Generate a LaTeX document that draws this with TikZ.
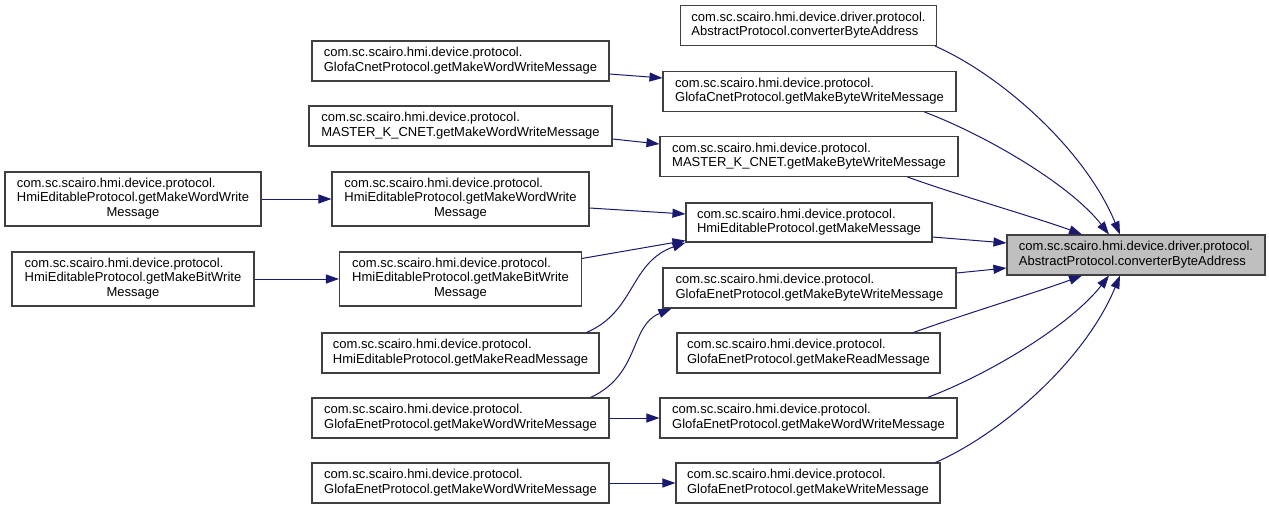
\documentclass[tikz,border=0pt]{standalone}
\usepackage{fontspec}
\setmainfont{Liberation Sans}
\usetikzlibrary{arrows.meta,calc}
\definecolor{edgec}{HTML}{191970}
\definecolor{boxc}{HTML}{404040}
\definecolor{rootfill}{HTML}{BFBFBF}
\newcommand{\twol}[2]{\begin{tabular}{@{}l@{}}#1\\#2\end{tabular}}
\newcommand{\threel}[3]{\begin{tabular}{@{}l@{}}#1\\#2\\\multicolumn{1}{@{}c@{}}{#3}\end{tabular}}
\begin{document}
\begin{tikzpicture}[x=1pt,y=-1pt,
  fn/.style={draw=boxc, line width=1.1pt, fill=white, inner sep=0pt, minimum height=40pt, font=\fontsize{13}{14.5}\selectfont, anchor=center},
  fn3/.style={fn, minimum height=54pt},
  root/.style={fn, fill=rootfill},
  edge/.style={draw=edgec, line width=1pt, -{Triangle[length=13pt,width=9pt]}}]
\fill[white] (0,0) rectangle (1269,509);
\useasboundingbox (0,0) rectangle (1269,509);
% right column
\node[root, minimum width=258pt] (T) at (1136,255) {\twol{com.sc.scairo.hmi.device.driver.protocol.}{AbstractProtocol.converterByteAddress}};
\node[fn, minimum width=256pt] (A) at (808.5,25.5) {\twol{com.sc.scairo.hmi.device.driver.protocol.}{AbstractProtocol.converterByteAddress}};
\node[fn, minimum width=293pt] (B) at (809.5,91.5) {\twol{com.sc.scairo.hmi.device.protocol.}{GlofaCnetProtocol.getMakeByteWriteMessage}};
\node[fn, minimum width=298pt] (C) at (809,156.5) {\twol{com.sc.scairo.hmi.device.protocol.}{MASTER\_K\_CNET.getMakeByteWriteMessage}};
\node[fn, minimum width=246pt, minimum height=39pt] (D) at (809,222.5) {\twol{com.sc.scairo.hmi.device.protocol.}{HmiEditableProtocol.getMakeMessage}};
\node[fn, minimum width=293pt] (E) at (809.5,288) {\twol{com.sc.scairo.hmi.device.protocol.}{GlofaEnetProtocol.getMakeByteWriteMessage}};
\node[fn, minimum width=263pt] (F) at (808.5,353) {\twol{com.sc.scairo.hmi.device.protocol.}{GlofaEnetProtocol.getMakeReadMessage}};
\node[fn, minimum width=297pt] (G) at (808.5,418) {\twol{com.sc.scairo.hmi.device.protocol.}{GlofaEnetProtocol.getMakeWordWriteMessage}};
\node[fn, minimum width=264pt] (H) at (808,483) {\twol{com.sc.scairo.hmi.device.protocol.}{GlofaEnetProtocol.getMakeWriteMessage}};
% middle column
\node[fn, minimum width=297pt] (M1) at (460.5,61) {\twol{com.sc.scairo.hmi.device.protocol.}{GlofaCnetProtocol.getMakeWordWriteMessage}};
\node[fn, minimum width=303pt] (M2) at (460.5,126) {\twol{com.sc.scairo.hmi.device.protocol.}{MASTER\_K\_CNET.getMakeWordWriteMessage}};
\node[fn3, minimum width=257pt] (M3) at (460.5,199) {\threel{com.sc.scairo.hmi.device.protocol.}{HmiEditableProtocol.getMakeWordWrite}{Message}};
\node[fn3, minimum width=242pt] (M4) at (460.5,279) {\threel{com.sc.scairo.hmi.device.protocol.}{HmiEditableProtocol.getMakeBitWrite}{Message}};
\node[fn, minimum width=277pt] (M5) at (460.5,353) {\twol{com.sc.scairo.hmi.device.protocol.}{HmiEditableProtocol.getMakeReadMessage}};
\node[fn, minimum width=297pt] (M6) at (460.5,418) {\twol{com.sc.scairo.hmi.device.protocol.}{GlofaEnetProtocol.getMakeWordWriteMessage}};
\node[fn, minimum width=297pt] (M7) at (460.5,483) {\twol{com.sc.scairo.hmi.device.protocol.}{GlofaEnetProtocol.getMakeWordWriteMessage}};
% left column
\node[fn3, minimum width=256pt] (L1) at (133,199) {\threel{com.sc.scairo.hmi.device.protocol.}{HmiEditableProtocol.getMakeWordWrite}{Message}};
\node[fn3, minimum width=242pt] (L2) at (133,279) {\threel{com.sc.scairo.hmi.device.protocol.}{HmiEditableProtocol.getMakeBitWrite}{Message}};
% edges into root
\draw[edge] ($(A.south east)+(-2,0)$) .. controls +(66,29) and +(-35,-85) .. ($(T.north)+(-16,0)$);
\draw[edge] ($(B.south east)+(-32,0)$) .. controls +(61,23) and +(-39,-50) .. ($(T.north)+(-27,0)$);
\draw[edge] ($(C.south east)+(-51,0)$) .. controls +(50,18) and +(-40,-15) .. ($(T.north)+(-54,0)$);
\draw[edge] ($(D.east)+(0,14.5)$) -- ($(T.west)+(0,-12)$);
\draw[edge] ($(E.east)+(0,-15)$) -- ($(T.west)+(0,13)$);
\draw[edge] ($(F.north east)+(-27,0)$) .. controls +(50,-18) and +(-40,15) .. ($(T.south)+(-54,0)$);
\draw[edge] ($(G.north east)+(-30,0)$) .. controls +(61,-23) and +(-39,50) .. ($(T.south)+(-27,0)$);
\draw[edge] ($(H.north east)+(-5,0)$) .. controls +(66,-29) and +(-35,85) .. ($(T.south)+(-16,0)$);
% middle to right
\draw[edge] ($(M1.east)+(0,13)$) -- ($(B.west)+(0,-13.5)$);
\draw[edge] ($(M2.east)+(0,13)$) -- ($(C.west)+(0,-12.5)$);
\draw[edge] ($(M3.east)+(0,9)$) -- ($(D.west)+(0,-8.5)$);
\draw[edge] ($(M4.north east)+(0,7)$) -- ($(D.south west)+(0,-2)$);
\draw[edge] ($(M5.north east)+(-13,0)$) .. controls +(49,-21) and +(-56,20) .. (D.south west);
\draw[edge] ($(M6.north east)+(-19,0)$) .. controls +(50,-23) and +(-42,17) .. ($(E.south west)+(9,0)$);
\draw[edge] (M6.east) -- (G.west);
\draw[edge] (M7.east) -- (H.west);
% left to middle
\draw[edge] (L1.east) -- (M3.west);
\draw[edge] (L2.east) -- (M4.west);
\end{tikzpicture}
\end{document}
